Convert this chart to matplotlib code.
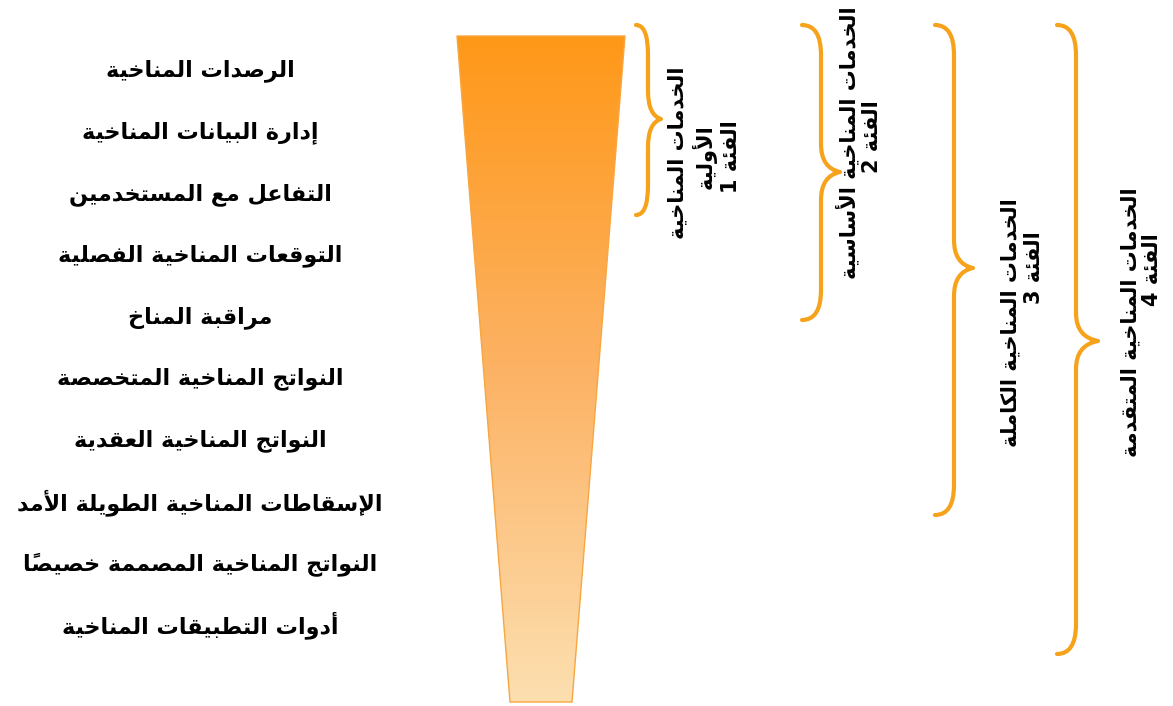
import numpy as np
import matplotlib
matplotlib.use("Agg")
import matplotlib.pyplot as plt
from matplotlib.path import Path
from matplotlib.patches import PathPatch, Polygon
from matplotlib.colors import LinearSegmentedColormap

# ---------------- data ----------------
items = [
    "الرصدات المناخية",
    "إدارة البيانات المناخية",
    "التفاعل مع المستخدمين",
    "التوقعات المناخية الفصلية",
    "مراقبة المناخ",
    "النواتج المناخية المتخصصة",
    "النواتج المناخية العقدية",
    "الإسقاطات المناخية الطويلة الأمد",
    "النواتج المناخية المصممة خصيصاً",
    "أدوات التطبيقات المناخية",
]
category_lines = [
    ["الخدمات المناخية", "الأولية", "الفئة 1"],
    ["الخدمات المناخية الأساسية", "الفئة 2"],
    ["الخدمات المناخية الكاملة", "الفئة 3"],
    ["الخدمات المناخية المتقدمة", "الفئة 4"],
]

# ---------------- minimal Arabic shaping ----------------
FORMS = {  # isolated, final, initial, medial
    '\u0621': ('\uFE80', None, None, None),
    '\u0623': ('\uFE83', '\uFE84', None, None),
    '\u0625': ('\uFE87', '\uFE88', None, None),
    '\u0626': ('\uFE89', '\uFE8A', '\uFE8B', '\uFE8C'),
    '\u0627': ('\uFE8D', '\uFE8E', None, None),
    '\u0628': ('\uFE8F', '\uFE90', '\uFE91', '\uFE92'),
    '\u0629': ('\uFE93', '\uFE94', None, None),
    '\u062A': ('\uFE95', '\uFE96', '\uFE97', '\uFE98'),
    '\u062B': ('\uFE99', '\uFE9A', '\uFE9B', '\uFE9C'),
    '\u062C': ('\uFE9D', '\uFE9E', '\uFE9F', '\uFEA0'),
    '\u062D': ('\uFEA1', '\uFEA2', '\uFEA3', '\uFEA4'),
    '\u062E': ('\uFEA5', '\uFEA6', '\uFEA7', '\uFEA8'),
    '\u062F': ('\uFEA9', '\uFEAA', None, None),
    '\u0630': ('\uFEAB', '\uFEAC', None, None),
    '\u0631': ('\uFEAD', '\uFEAE', None, None),
    '\u0632': ('\uFEAF', '\uFEB0', None, None),
    '\u0633': ('\uFEB1', '\uFEB2', '\uFEB3', '\uFEB4'),
    '\u0634': ('\uFEB5', '\uFEB6', '\uFEB7', '\uFEB8'),
    '\u0635': ('\uFEB9', '\uFEBA', '\uFEBB', '\uFEBC'),
    '\u0636': ('\uFEBD', '\uFEBE', '\uFEBF', '\uFEC0'),
    '\u0637': ('\uFEC1', '\uFEC2', '\uFEC3', '\uFEC4'),
    '\u0638': ('\uFEC5', '\uFEC6', '\uFEC7', '\uFEC8'),
    '\u0639': ('\uFEC9', '\uFECA', '\uFECB', '\uFECC'),
    '\u063A': ('\uFECD', '\uFECE', '\uFECF', '\uFED0'),
    '\u0641': ('\uFED1', '\uFED2', '\uFED3', '\uFED4'),
    '\u0642': ('\uFED5', '\uFED6', '\uFED7', '\uFED8'),
    '\u0643': ('\uFED9', '\uFEDA', '\uFEDB', '\uFEDC'),
    '\u0644': ('\uFEDD', '\uFEDE', '\uFEDF', '\uFEE0'),
    '\u0645': ('\uFEE1', '\uFEE2', '\uFEE3', '\uFEE4'),
    '\u0646': ('\uFEE5', '\uFEE6', '\uFEE7', '\uFEE8'),
    '\u0647': ('\uFEE9', '\uFEEA', '\uFEEB', '\uFEEC'),
    '\u0648': ('\uFEED', '\uFEEE', None, None),
    '\u0649': ('\uFEEF', '\uFEF0', None, None),
    '\u064A': ('\uFEF1', '\uFEF2', '\uFEF3', '\uFEF4'),
}
LAM_ALEF = {'\u0622': ('\uFEF5', '\uFEF6'), '\u0623': ('\uFEF7', '\uFEF8'),
            '\u0625': ('\uFEF9', '\uFEFA'), '\u0627': ('\uFEFB', '\uFEFC')}


def is_mark(c):
    return '\u064B' <= c <= '\u065F' or c == '\u0670'


def dual(c):
    return c in FORMS and FORMS[c][2] is not None


def joins(c):
    return c in FORMS and FORMS[c][1] is not None


def shape_word_logical(s):
    clusters = []
    for c in s:
        if is_mark(c) and clusters:
            clusters[-1][1].append(c)
        else:
            clusters.append([c, []])
    merged = []
    i = 0
    while i < len(clusters):
        b = clusters[i][0]
        if b == '\u0644' and i + 1 < len(clusters) and clusters[i + 1][0] in LAM_ALEF:
            merged.append(['LA' + clusters[i + 1][0], clusters[i][1] + clusters[i + 1][1]])
            i += 2
        else:
            merged.append(clusters[i])
            i += 1
    out = []
    n = len(merged)
    for i, (b, marks) in enumerate(merged):
        prev = merged[i - 1][0] if i > 0 else None
        nxt = merged[i + 1][0] if i + 1 < n else None
        prev_connects = prev is not None and dual(prev) and not prev.startswith('LA')
        if b.startswith('LA'):
            iso, fin = LAM_ALEF[b[2]]
            g = fin if prev_connects else iso
        elif b in FORMS:
            to_prev = prev_connects and joins(b)
            nxt_joinable = nxt is not None and (joins(nxt) or nxt.startswith('LA'))
            to_next = dual(b) and nxt_joinable
            iso, fin, ini, med = FORMS[b]
            if to_prev and to_next:
                g = med
            elif to_prev:
                g = fin
            elif to_next:
                g = ini
            else:
                g = iso
        else:
            g = b
        out.append(g + ''.join(marks))
    return out


def ar(s):
    clusters = shape_word_logical(s)
    vis = []
    run = []
    for cl in clusters:
        if cl.isascii() and cl.isalnum():
            run.append(cl)
        else:
            if run:
                vis.append(''.join(run))
                run = []
            vis.append(cl)
    if run:
        vis.append(''.join(run))
    return ''.join(reversed(vis))


# ---------------- figure ----------------
W, H = 1173, 706
fig = plt.figure(figsize=(W / 100, H / 100), dpi=100)
ax = fig.add_axes([0, 0, 1, 1])
ax.set_xlim(0, W)
ax.set_ylim(H, 0)
ax.axis('off')

FONT = dict(family='DejaVu Sans', fontweight='bold', color='black')

# left list
list_x = 200
list_y0, list_dy = 71, 61.6
for i, t in enumerate(items):
    ax.text(list_x, list_y0 + i * list_dy, ar(t), ha='center', va='center', fontsize=16, **FONT)

# funnel with gradient
top_y, bot_y = 36, 702
funnel = [(457, top_y), (625, top_y), (572, bot_y), (510, bot_y)]
cmap = LinearSegmentedColormap.from_list('fun', ['#FF9818', '#FCB264', '#FDDFB0'])
grad = np.linspace(0, 1, 256).reshape(-1, 1)
im = ax.imshow(grad, cmap=cmap, extent=(450, 630, bot_y, top_y), aspect='auto', zorder=1)
poly = Polygon(funnel, closed=True, facecolor='none', edgecolor='#F8A640', linewidth=1.0, zorder=2)
ax.add_patch(poly)
im.set_clip_path(poly)

BRACE_COLOR = '#F7A21B'


def brace(x_end, x_spine, x_tip, y0, y1, ym, r_end=30, r_mid=28):
    verts = [(x_end, y0), (x_spine, y0), (x_spine, y0 + r_end),
             (x_spine, ym - r_mid), (x_spine, ym - 4), (x_tip, ym),
             (x_spine, ym + 4), (x_spine, ym + r_mid),
             (x_spine, y1 - r_end), (x_spine, y1), (x_end, y1)]
    codes = [Path.MOVETO, Path.CURVE3, Path.CURVE3,
             Path.LINETO, Path.CURVE3, Path.CURVE3,
             Path.CURVE3, Path.CURVE3,
             Path.LINETO, Path.CURVE3, Path.CURVE3]
    ax.add_patch(PathPatch(Path(verts, codes), facecolor='none', edgecolor=BRACE_COLOR,
                           linewidth=3.0, capstyle='round', joinstyle='round', zorder=3))


braces = [
    (636, 648, 661, 25, 215, 119),
    (802, 821, 840, 25, 320, 172),
    (935, 954, 973, 25, 515, 268),
    (1057, 1076, 1098, 25, 654, 341),
]
for b in braces:
    brace(*b)

# category labels (rotated)
label_pos = [
    [(677, 153), (704, 157), (731, 157)],
    [(848, 143), (872, 137)],
    [(1010, 323), (1034, 268)],
    [(1130, 322), (1152, 270)],
]
for lines, poss in zip(category_lines, label_pos):
    for t, (x, y) in zip(lines, poss):
        ax.text(x, y, ar(t), rotation=90, ha='center', va='center', fontsize=15, **FONT)

fig.savefig('out.png', dpi=100, facecolor='white')
